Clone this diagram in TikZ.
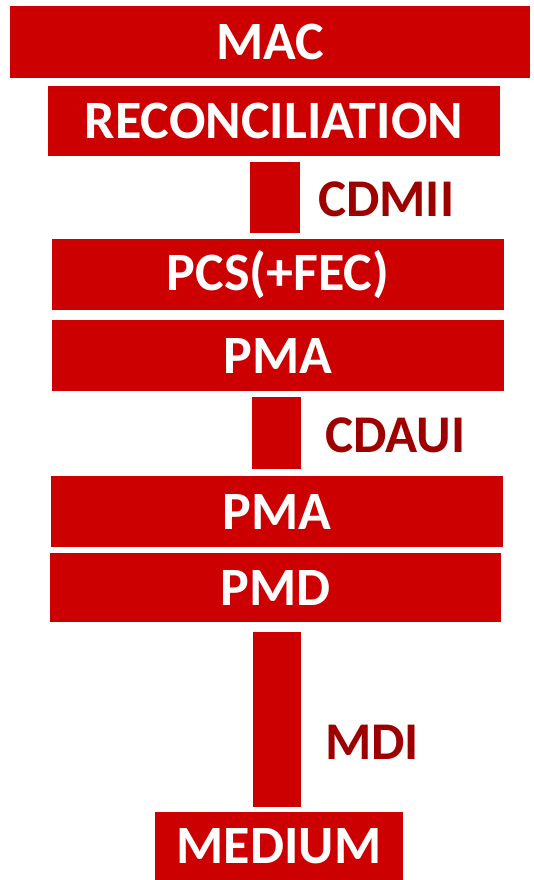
\documentclass[tikz,border=0pt]{standalone}
\usepackage{fontspec}
\setmainfont{Carlito}
\definecolor{boxred}{HTML}{CC0000}
\definecolor{labred}{HTML}{9E0000}
\begin{document}
\begin{tikzpicture}[x=1pt,y=-1pt,
  layer/.style={fill=boxred,draw=none,inner sep=0pt,text=white,font=\bfseries\fontsize{54}{64}\selectfont},
  bar/.style={fill=boxred,draw=none,inner sep=0pt},
  iface/.style={text=labred,anchor=west,inner sep=0pt,font=\bfseries\fontsize{53}{63}\selectfont}]
\useasboundingbox (0,0) rectangle (533,880);
\node[layer,minimum width=520pt,minimum height=72pt] (mac) at (270,42) {MAC};
\node[layer,minimum width=452pt,minimum height=70pt] (rec) at (274,121) {RECONCILIATION};
\node[bar,minimum width=50pt,minimum height=71pt] (cdmii) at (275,197.5) {};
\node[layer,minimum width=452pt,minimum height=71pt] (pcs) at (278,274.5) {PCS(+FEC)};
\node[layer,minimum width=452pt,minimum height=71pt] (pma1) at (278,355.5) {PMA};
\node[bar,minimum width=49pt,minimum height=72pt] (cdaui) at (276.5,433) {};
\node[layer,minimum width=452pt,minimum height=71pt] (pma2) at (277,511.5) {PMA};
\node[layer,minimum width=451pt,minimum height=69pt] (pmd) at (275.5,587.5) {PMD};
\node[bar,minimum width=48pt,minimum height=175pt] (mdi) at (277,719.5) {};
\node[layer,minimum width=248pt,minimum height=68pt] (medium) at (279,846) {MEDIUM};
\node[iface] (lcdmii) at (318,199) {CDMII};
\node[iface] (lcdaui) at (325,435) {CDAUI};
\node[iface] (lmdi) at (325,742) {MDI};
\end{tikzpicture}
\end{document}
